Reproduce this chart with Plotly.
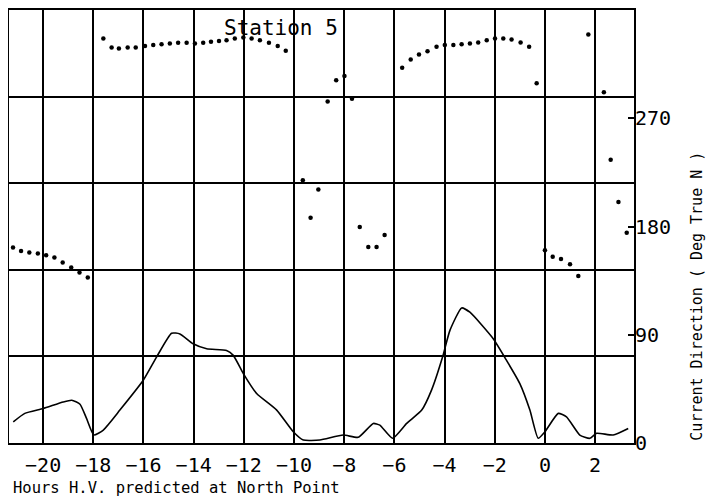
import plotly.graph_objects as go

# ---- Data ----
speed_hours = [-21.19, -20.73, -20.0, -19.2, -18.86, -18.53, -18.27, -17.98, -17.6, -16.94,
               -16.01, -15.48, -14.88, -14.55, -14.02, -13.48, -12.69, -12.42, -12.02, -11.49,
               -10.69, -10.03, -9.63, -8.97, -8.04, -7.44, -6.84, -6.58, -6.07, -5.51,
               -4.91, -4.52, -4.08, -3.79, -3.32, -2.99, -2.06, -1.53, -1.0, -0.6,
               -0.27, 0.0, 0.53, 0.86, 1.39, 1.79, 2.06, 2.72, 3.32]
speed_knots = [0.122, 0.171, 0.199, 0.237, 0.247, 0.224, 0.142, 0.046, 0.075, 0.19,
               0.362, 0.496, 0.634, 0.63, 0.573, 0.544, 0.534, 0.506, 0.401, 0.286,
               0.19, 0.065, 0.017, 0.017, 0.046, 0.033, 0.113, 0.103, 0.027, 0.113,
               0.19, 0.305, 0.496, 0.649, 0.78, 0.755, 0.602, 0.477, 0.343, 0.19,
               0.027, 0.065, 0.171, 0.151, 0.046, 0.027, 0.056, 0.046, 0.084]

dir_hours = [-21.2, -20.88, -20.55, -20.21, -19.88, -19.55, -19.22, -18.88, -18.55, -18.22,
             -17.6, -17.27, -16.98, -16.63, -16.31, -15.94, -15.61, -15.28, -14.95, -14.62,
             -14.28, -13.95, -13.62, -13.31, -12.99, -12.69, -12.36, -12.02, -11.69, -11.36,
             -11.0, -10.65, -10.33,
             -9.65, -9.34, -9.03, -8.66, -8.32, -7.99, -7.69, -7.38, -7.04, -6.71, -6.39,
             -5.69, -5.35, -5.02, -4.68, -4.32, -3.99, -3.65, -3.32, -2.99, -2.66,
             -2.32, -1.99, -1.66, -1.33, -0.97, -0.63, -0.33,
             0.0, 0.31, 0.64, 1.0, 1.33, 1.73, 2.35, 2.62, 2.93, 3.26]
dir_deg = [162.5, 159.7, 158.3, 157.5, 156.2, 154.2, 150.0, 145.9, 141.8, 137.6,
           336.3, 328.8, 328.0, 328.8, 328.8, 330.0, 330.8, 331.6, 332.1, 332.7,
           332.7, 332.1, 332.7, 333.5, 334.3, 334.9, 336.3, 337.1, 336.3, 334.9,
           332.7, 330.0, 326.1,
           218.5, 187.3, 210.8, 283.9, 301.5, 305.1, 286.3, 179.6, 163.0, 163.0, 173.0,
           312.0, 318.9, 323.0, 325.8, 329.4, 330.8, 330.8, 331.6, 332.1, 332.9,
           334.9, 336.3, 336.3, 335.4, 332.9, 329.4, 299.0,
           160.3, 154.8, 152.9, 148.7, 138.8, 339.6, 291.6, 235.6, 200.3, 174.9]

x_ticks = [-20, -18, -16, -14, -12, -10, -8, -6, -4, -2, 0, 2]
dir_ticks = [0, 90, 180, 270]

FONT = "DejaVu Sans Mono"

fig = go.Figure()
fig.add_trace(go.Scatter(x=speed_hours, y=speed_knots, mode="lines",
                         line=dict(color="black", width=1.6, shape="spline", smoothing=0.5),
                         yaxis="y", showlegend=False, hoverinfo="skip"))
fig.add_trace(go.Scatter(x=dir_hours, y=dir_deg, mode="markers",
                         marker=dict(color="black", size=4.5), yaxis="y2",
                         showlegend=False, hoverinfo="skip"))

# the page body has an 8px margin, so the figure is sized/offset to compensate
fig.update_layout(
    width=713, height=495,
    margin=dict(l=1, r=87, t=0, b=60),
    paper_bgcolor="white", plot_bgcolor="white",
    font=dict(family=FONT, color="black"),
    xaxis=dict(range=[-21.36, 3.55], tickmode="array", tickvals=x_ticks,
               ticks="", showgrid=True, gridcolor="black", gridwidth=1.6,
               zeroline=False, showline=True, linecolor="black", linewidth=2,
               mirror=True, tickfont=dict(family=FONT, size=20),
               ticklabelstandoff=3),
    yaxis=dict(range=[0, 2.5], dtick=0.5, showticklabels=False, ticks="",
               showgrid=True, gridcolor="black", gridwidth=1.6, zeroline=False,
               showline=True, linecolor="black", linewidth=2, mirror=True),
    yaxis2=dict(range=[0, 360], overlaying="y", side="right",
                tickmode="array", tickvals=dir_ticks, ticks="inside",
                ticklen=6, tickcolor="black", tickwidth=1.5,
                showgrid=False, zeroline=False, showline=False,
                tickfont=dict(family=FONT, size=20)),
    annotations=[
        dict(text="Station 5", x=(281 - 9) / 625, y=(443 - 26.5) / 435,
             xref="paper", yref="paper", xanchor="center", yanchor="middle",
             showarrow=False, font=dict(family=FONT, size=21)),
        dict(text="Hours H.V. predicted at North Point", x=(11 - 9) / 625,
             y=(443 - 488) / 435, xref="paper", yref="paper",
             xanchor="left", yanchor="middle", showarrow=False,
             font=dict(family=FONT, size=15.5)),
        dict(text="Current Direction ( Deg True N )", x=(697 - 9) / 625,
             y=(443 - 296) / 435, xref="paper", yref="paper",
             xanchor="center", yanchor="middle", textangle=-90,
             showarrow=False, font=dict(family=FONT, size=15)),
    ],
)

fig.write_html("out.html")
